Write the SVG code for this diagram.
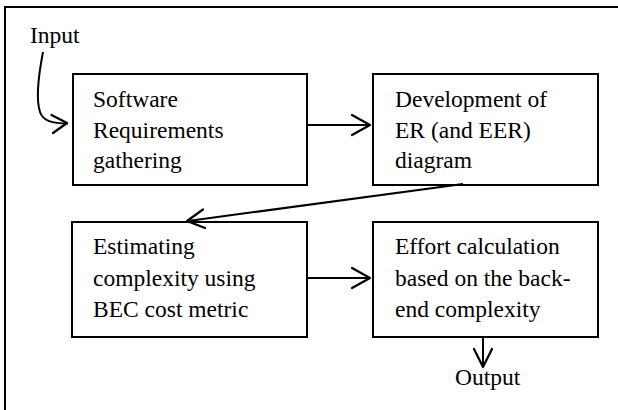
<svg xmlns="http://www.w3.org/2000/svg" width="618" height="410" viewBox="0 0 618 410">
<style>
.box{fill:#fff;stroke:#000;stroke-width:2}
.t{font-family:"Liberation Serif","Times New Roman",serif;font-size:23.5px;fill:#000}
.c{fill:none;stroke:#000;stroke-width:2}
.h{fill:none;stroke:#000;stroke-width:2.2;stroke-linecap:round;stroke-linejoin:round}
</style>
<rect width="618" height="410" fill="#fff"/>
<rect x="5" y="7" width="630" height="420" fill="none" stroke="#000" stroke-width="2"/>
<g id="input"><text class="t" x="30" y="43">Input</text></g>
<g id="n1">
<rect class="box" x="73" y="74" width="234" height="111"/>
<text class="t" x="93" y="107">Software</text>
<text class="t" x="93" y="138">Requirements</text>
<text class="t" x="93" y="168">gathering</text>
</g>
<g id="n2">
<rect class="box" x="373" y="74" width="225" height="111"/>
<text class="t" x="395" y="107">Development of</text>
<text class="t" x="395" y="138">ER (and EER)</text>
<text class="t" x="395" y="168">diagram</text>
</g>
<g id="n3">
<rect class="box" x="72" y="222" width="235" height="115"/>
<text class="t" x="93" y="254">Estimating</text>
<text class="t" x="93" y="286">complexity using</text>
<text class="t" x="93" y="317">BEC cost metric</text>
</g>
<g id="n4">
<rect class="box" x="373" y="222" width="225" height="115"/>
<text class="t" x="395" y="254">Effort calculation</text>
<text class="t" x="395" y="286">based on the back-</text>
<text class="t" x="395" y="317">end complexity</text>
</g>
<g id="output"><text class="t" x="455" y="385">Output</text></g>
<g id="connectors">
<path class="c" d="M43,52 C38,78 36,100 40,112 C43,121 52,123.5 68,123.5"/>
<path class="h" d="M51.5,115 L67,123 L53,133"/>
<path class="c" d="M307,125 L370,125"/>
<path class="h" d="M352,115 L370,125 L352,135"/>
<path class="c" d="M463,184 L188,221"/>
<path class="h" d="M203,209.5 L187,221 L205,228"/>
<path class="c" d="M307,278 L370,278"/>
<path class="h" d="M352,268 L370,278 L352,288"/>
<path class="c" d="M483,337 L483,367"/>
<path class="h" d="M474,349 L483,367 L492,349"/>
</g>
</svg>
